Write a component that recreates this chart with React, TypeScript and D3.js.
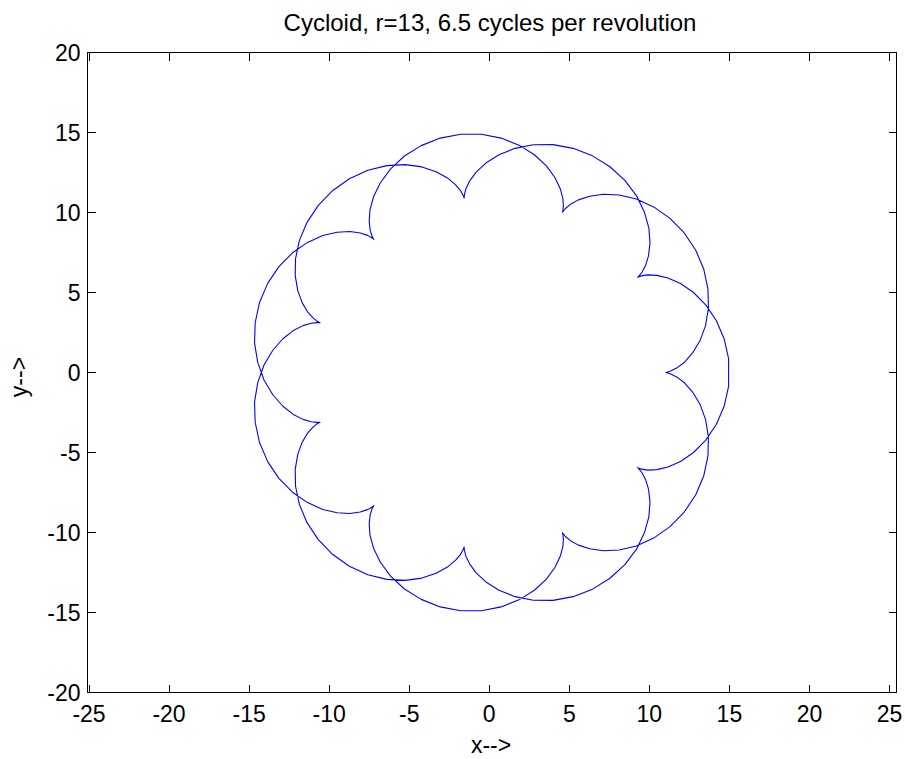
import React from 'react';
import * as d3 from 'd3';

// First revolution of the curve
const rev1X = [
  11.00, 11.09, 11.34, 11.73, 12.21, 12.70, 13.16, 13.51, 13.69, 13.66,
  13.40, 12.90, 12.18, 11.29, 10.27, 9.19, 8.12, 7.13, 6.27, 5.57,
  5.07, 4.76, 4.60, 4.57, 4.60, 4.63, 4.60, 4.44, 4.11, 3.57,
  2.82, 1.86, 0.74, -0.49, -1.78, -3.06, -4.25, -5.30, -6.16, -6.80,
  -7.23, -7.45, -7.50, -7.44, -7.33, -7.23, -7.21, -7.32, -7.60, -8.06,
  -8.70, -9.50, -10.40, -11.35, -12.29, -13.14, -13.84, -14.35, -14.62, -14.66,
  -14.46, -14.07, -13.52, -12.89, -12.24, -11.63, -11.12, -10.77, -10.58, -10.57,
  -10.72, -10.99, -11.34, -11.68, -11.96, -12.12, -12.10, -11.86, -11.39, -10.69,
  -9.79, -8.74, -7.58, -6.40, -5.25, -4.21, -3.32, -2.61, -2.10, -1.78,
  -1.62, -1.57, -1.57, -1.55, -1.46, -1.23, -0.82, -0.21, 0.61, 1.61,
  2.75, 3.98, 5.24, 6.45, 7.54, 8.47, 9.20, 9.69, 9.97, 10.04,
  9.95, 9.77, 9.55, 9.36, 9.26, 9.30, 9.51, 9.90, 10.47, 11.16,
  11.95, 12.76, 13.52, 14.18, 14.67, 14.95,
];
const rev1Y = [
  0.00, 0.01, 0.09, 0.29, 0.66, 1.22, 1.98, 2.93, 4.03, 5.23,
  6.45, 7.64, 8.72, 9.63, 10.35, 10.84, 11.09, 11.14, 11.02, 10.79,
  10.51, 10.25, 10.06, 10.01, 10.12, 10.41, 10.87, 11.47, 12.17, 12.91,
  13.61, 14.21, 14.65, 14.89, 14.89, 14.65, 14.18, 13.53, 12.73, 11.86,
  10.98, 10.16, 9.46, 8.91, 8.54, 8.35, 8.32, 8.41, 8.57, 8.72,
  8.81, 8.77, 8.56, 8.13, 7.48, 6.62, 5.57, 4.38, 3.11, 1.84,
  0.63, -0.47, -1.39, -2.11, -2.62, -2.93, -3.08, -3.12, -3.11, -3.11,
  -3.18, -3.40, -3.78, -4.35, -5.12, -6.05, -7.11, -8.24, -9.37, -10.43,
  -11.36, -12.11, -12.64, -12.93, -12.99, -12.85, -12.55, -12.16, -11.73, -11.35,
  -11.05, -10.90, -10.92, -11.12, -11.48, -11.96, -12.52, -13.09, -13.61, -14.01,
  -14.23, -14.24, -14.01, -13.54, -12.86, -12.01, -11.04, -10.02, -9.02, -8.10,
  -7.31, -6.70, -6.28, -6.04, -5.95, -5.97, -6.04, -6.10, -6.07, -5.91,
  -5.56, -5.00, -4.23, -3.25, -2.11, -0.86,
];

// Second revolution of the curve
const rev2X = [
  14.95, 14.67, 14.18, 13.52, 12.76, 11.95, 11.16, 10.47, 9.90, 9.51,
  9.30, 9.26, 9.36, 9.55, 9.77, 9.95, 10.04, 9.97, 9.69, 9.20,
  8.47, 7.54, 6.45, 5.24, 3.98, 2.75, 1.61, 0.61, -0.21, -0.82,
  -1.23, -1.46, -1.55, -1.57, -1.57, -1.62, -1.78, -2.10, -2.61, -3.32,
  -4.21, -5.25, -6.40, -7.58, -8.74, -9.79, -10.69, -11.39, -11.86, -12.10,
  -12.12, -11.96, -11.68, -11.34, -10.99, -10.72, -10.57, -10.58, -10.77, -11.12,
  -11.63, -12.24, -12.89, -13.52, -14.07, -14.46, -14.66, -14.62, -14.35, -13.84,
  -13.14, -12.29, -11.35, -10.40, -9.50, -8.70, -8.06, -7.60, -7.32, -7.21,
  -7.23, -7.33, -7.44, -7.50, -7.45, -7.23, -6.80, -6.16, -5.30, -4.25,
  -3.06, -1.78, -0.49, 0.74, 1.86, 2.82, 3.57, 4.11, 4.44, 4.60,
  4.63, 4.60, 4.57, 4.60, 4.76, 5.07, 5.57, 6.27, 7.13, 8.12,
  9.19, 10.27, 11.29, 12.18, 12.90, 13.40, 13.66, 13.69, 13.51, 13.16,
  12.70, 12.21, 11.73, 11.34, 11.09, 11.00,
];
const rev2Y = [
  0.86, 2.11, 3.25, 4.23, 5.00, 5.56, 5.91, 6.07, 6.10, 6.04,
  5.97, 5.95, 6.04, 6.28, 6.70, 7.31, 8.10, 9.02, 10.02, 11.04,
  12.01, 12.86, 13.54, 14.01, 14.24, 14.23, 14.01, 13.61, 13.09, 12.52,
  11.96, 11.48, 11.12, 10.92, 10.90, 11.05, 11.35, 11.73, 12.16, 12.55,
  12.85, 12.99, 12.93, 12.64, 12.11, 11.36, 10.43, 9.37, 8.24, 7.11,
  6.05, 5.12, 4.35, 3.78, 3.40, 3.18, 3.11, 3.11, 3.12, 3.08,
  2.93, 2.62, 2.11, 1.39, 0.47, -0.63, -1.84, -3.11, -4.38, -5.57,
  -6.62, -7.48, -8.13, -8.56, -8.77, -8.81, -8.72, -8.57, -8.41, -8.32,
  -8.35, -8.54, -8.91, -9.46, -10.16, -10.98, -11.86, -12.73, -13.53, -14.18,
  -14.65, -14.89, -14.89, -14.65, -14.21, -13.61, -12.91, -12.17, -11.47, -10.87,
  -10.41, -10.12, -10.01, -10.06, -10.25, -10.51, -10.79, -11.02, -11.14, -11.09,
  -10.84, -10.35, -9.63, -8.72, -7.64, -6.45, -5.23, -4.03, -2.93, -1.98,
  -1.22, -0.66, -0.29, -0.09, -0.01, 0.00,
];

const xTicks = [-25, -20, -15, -10, -5, 0, 5, 10, 15, 20, 25];
const yTicks = [-20, -15, -10, -5, 0, 5, 10, 15, 20];
const titleText = 'Cycloid, r=13, 6.5 cycles per revolution';
const xLabelText = 'x-->';
const yLabelText = 'y-->';

export default function App() {
  const W = 905;
  const H = 759;
  const left = 87.5;
  const right = 896.5;
  const top = 52.5;
  const bottom = 692.5;
  const tickLen = 8;
  const font = '"Liberation Sans", Arial, Helvetica, sans-serif';
  const fs = 23;

  const x = d3.scaleLinear().domain([-25.094, 25.437]).range([left, right]);
  const y = d3.scaleLinear().domain([-20, 20]).range([bottom, top]);

  const pts: [number, number][] = [
    ...rev1X.map((v, i) => [v, rev1Y[i]] as [number, number]),
    ...rev2X.map((v, i) => [v, rev2Y[i]] as [number, number]),
  ];
  const line = d3
    .line<[number, number]>()
    .x((d) => x(d[0]))
    .y((d) => y(d[1]));

  return (
    <svg
      width={W}
      height={H}
      viewBox={`0 0 ${W} ${H}`}
      style={{ position: 'absolute', left: 0, top: 0, background: '#fff' }}
    >
      <rect x={0} y={0} width={W} height={H} fill="#fff" />
      <path d={line(pts) || ''} fill="none" stroke="#0000ff" strokeWidth={1.1} strokeLinejoin="round" />
      <g stroke="#000" strokeWidth={1} shapeRendering="crispEdges">
        <rect x={left} y={top} width={right - left} height={bottom - top} fill="none" />
        {xTicks.map((t) => (
          <g key={'xt' + t}>
            <line x1={x(t)} x2={x(t)} y1={bottom} y2={bottom - tickLen} />
            <line x1={x(t)} x2={x(t)} y1={top} y2={top + tickLen} />
          </g>
        ))}
        {yTicks.map((t) => (
          <g key={'yt' + t}>
            <line x1={left} x2={left + tickLen} y1={y(t)} y2={y(t)} />
            <line x1={right} x2={right - tickLen} y1={y(t)} y2={y(t)} />
          </g>
        ))}
      </g>
      <g fontFamily={font} fontSize={fs} fill="#000">
        {xTicks.map((t) => (
          <text key={'xl' + t} x={x(t)} y={bottom + 29} textAnchor="middle">
            {String(t)}
          </text>
        ))}
        {yTicks.map((t) => (
          <text key={'yl' + t} x={left - 7} y={y(t) + 8} textAnchor="end">
            {String(t)}
          </text>
        ))}
        <text x={490} y={31} textAnchor="middle" fontSize={24}>
          {titleText}
        </text>
        <text x={491} y={753} textAnchor="middle">
          {xLabelText}
        </text>
        <text transform={`translate(27,377) rotate(-90)`} textAnchor="middle">
          {yLabelText}
        </text>
      </g>
    </svg>
  );
}
